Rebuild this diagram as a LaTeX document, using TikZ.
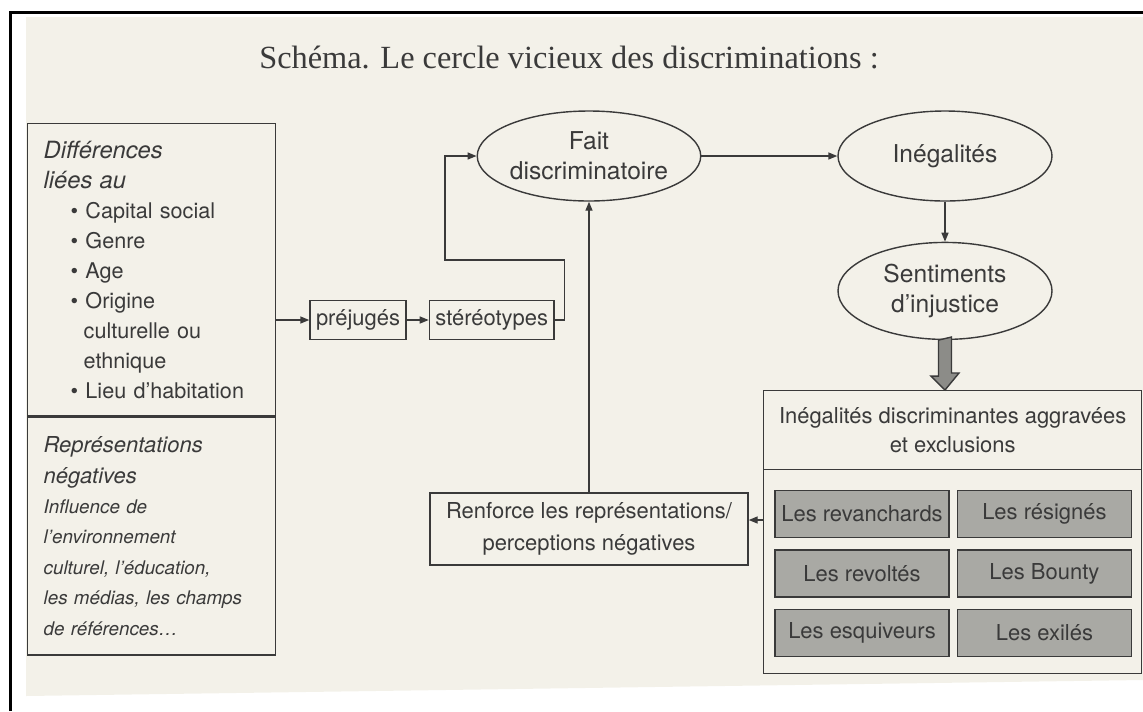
\documentclass[tikz,border=0pt]{standalone}
\usepackage{fontspec}
\setmainfont{TeX Gyre Heros}
\newfontfamily\titlefont{Liberation Serif}
\usepackage{tikz}
\usetikzlibrary{arrows.meta}
\usetikzlibrary{shapes.geometric}
\usetikzlibrary{positioning}
\newlength{\pxu}
\setlength{\pxu}{0.02cm}
\definecolor{paper}{HTML}{F3F1E9}
\definecolor{ink}{HTML}{3A3A3A}
\definecolor{cellgrey}{HTML}{A9A9A4}
\definecolor{arrowgrey}{HTML}{8C8C88}

\begin{document}
\begin{tikzpicture}[x=0.02cm, y=-0.02cm, line width=0.8pt, color=ink,
    >={Triangle[length=1.8mm,width=1.4mm]},
    box/.style={draw, rectangle, inner sep=0pt, font=\fontsize{12.5}{16}\selectfont},
    circ/.style={draw, ellipse, inner sep=0pt, minimum width=214\pxu, minimum height=90\pxu,
        align=center, font=\fontsize{14}{17}\selectfont},
    cell/.style={box, fill=cellgrey, minimum width=174\pxu, minimum height=47\pxu}]
        \useasboundingbox (0,0) rectangle (1143,711);
        % fond
        \fill[paper] (26,17) -- (1143,17) -- (1143,680) -- (26,696) -- cycle;
        \draw[black, line width=3\pxu] (10,711) |- (1143,12);
        \node [font=\titlefont\fontsize{18.4}{22}\selectfont] (titre) at (569,57)
            {Schéma. Le cercle vicieux des discriminations :};
        % colonne de gauche
        \node [box, anchor=north west, text width=216\pxu, inner xsep=16\pxu, minimum height=292\pxu,
            align=left, font=\fontsize{12.3}{17.1}\selectfont] (diff) at (27,123)
            {{\itshape\fontsize{13.5}{17.1}\selectfont Différences}\\
             {\itshape\fontsize{13.5}{17.1}\selectfont liées au}\\
             \hspace*{27\pxu}\textbullet\ Capital social\\
             \hspace*{27\pxu}\textbullet\ Genre\\
             \hspace*{27\pxu}\textbullet\ Age\\
             \hspace*{27\pxu}\textbullet\ Origine\\
             \hspace*{40\pxu}culturelle ou\\
             \hspace*{40\pxu}ethnique\\
             \hspace*{27\pxu}\textbullet\ Lieu d’habitation};
        \node [box, below=0pt of diff, text width=216\pxu, inner xsep=16\pxu, minimum height=238\pxu,
            align=left, font=\itshape\fontsize{10.7}{17.3}\selectfont] (repr)
            {{\fontsize{12.5}{17.3}\selectfont Représentations}\\
             {\fontsize{12.5}{17.3}\selectfont négatives}\\
             Influence de\\
             l’environnement\\
             culturel, l’éducation,\\
             les médias, les champs\\
             de références…};
        \node [box, minimum height=39\pxu, inner xsep=6\pxu] (prej) at (358,320) {préjugés};
        \node [box, minimum height=39\pxu, inner xsep=6\pxu] (stereo) [right=22\pxu of prej] {stéréotypes};
        % le cercle
        \node [circ] (fait) at (589,156) {Fait\\discriminatoire};
        \node [circ] (ineg) at (945,156) {Inégalités};
        \node [circ, minimum height=97\pxu] (sent) [below=40\pxu of ineg] {Sentiments\\d’injustice};
        \node [box, anchor=north west, minimum width=378\pxu, minimum height=283\pxu] (agg) at (763,390) {};
        \node [box, anchor=north, minimum width=378\pxu, minimum height=79\pxu, align=center] (agghead)
            at (agg.north) {Inégalités discriminantes aggravées\\et exclusions};
        \node [cell] (revan) at (862,514) {Les revanchards};
        \node [cell] (resig) [right=7\pxu of revan] {Les résignés};
        \node [cell] (revol) [below=11\pxu of revan] {Les revoltés};
        \node [cell] (bounty) [right=7\pxu of revol] {Les Bounty};
        \node [cell] (esq) [below=11\pxu of revol] {Les esquiveurs};
        \node [cell] (exil) [right=7\pxu of esq] {Les exilés};
        \node [box, minimum width=318\pxu, minimum height=72\pxu, align=center,
            font=\fontsize{12.5}{18}\selectfont] (renf) at (589,529)
            {Renforce les représentations/\\perceptions négatives};
        \coordinate (coude) at (445,260);
        \coordinate (retour) at (763,520);
        \draw[->] (diff.east |- prej) -- (prej);
        \draw[->] (prej) -- (stereo);
        \draw[->] (stereo.east) -- ++(10,0) |- (coude) |- (fait.west);
        \draw[->] (fait) -- (ineg);
        \draw[->] (ineg) -- (sent);
        \draw[fill=arrowgrey] (sent.south) ++(-6.5,0) -- ++(0,36) -- ++(-7.5,0) -- (sent.south |- agg.north)
            -- ++(14,-17) -- ++(-7.5,0) -- ++(0,-36) -- cycle;
        \draw[->] (retour) -- (retour -| renf.east);
        \draw[->] (renf) -- (fait);
    \end{tikzpicture}
\end{document}
